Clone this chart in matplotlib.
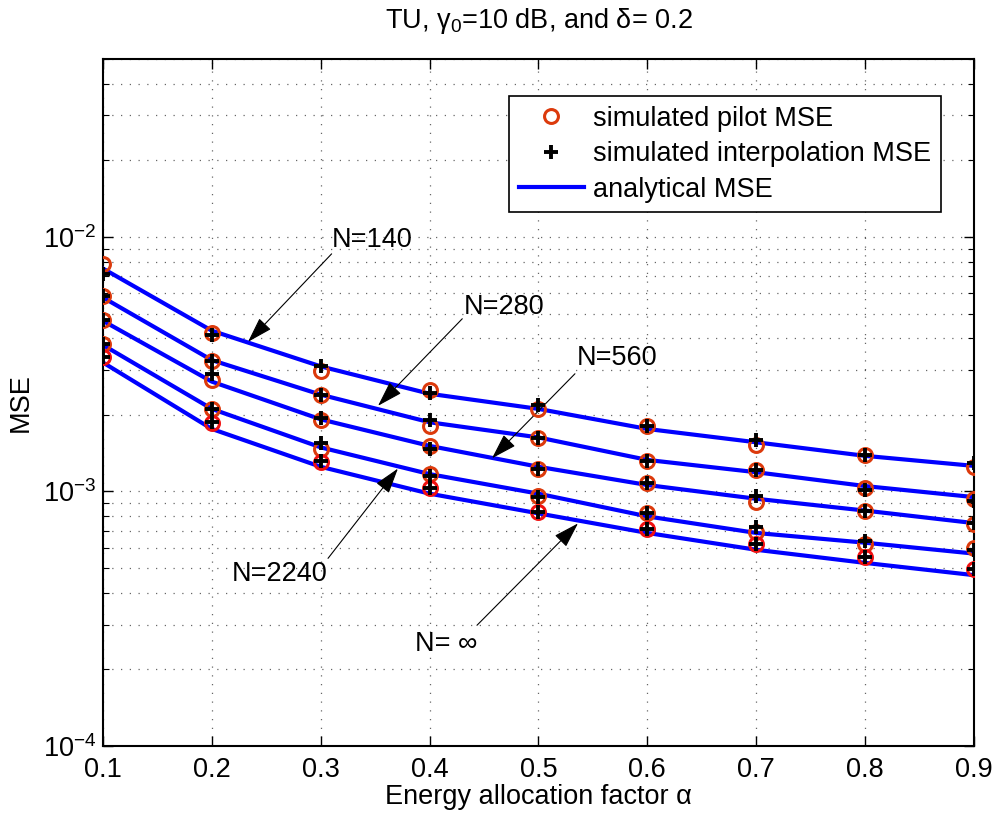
import numpy as np
import matplotlib
matplotlib.use("Agg")
from matplotlib import pyplot as plt
from matplotlib.ticker import LogLocator, NullFormatter

plt.rcParams['font.family'] = ['Liberation Sans', 'DejaVu Sans']
plt.rcParams['mathtext.fontset'] = 'custom'
plt.rcParams['mathtext.rm'] = 'Liberation Sans'
plt.rcParams['mathtext.it'] = 'Liberation Sans:italic'
plt.rcParams['font.size'] = 19.5

# energy allocation factor
alpha = [0.1, 0.2, 0.3, 0.4, 0.5, 0.6, 0.7, 0.8, 0.9]
labels = ["N=140", "N=280", "N=560", "N=2240", "N= \u221e"]

# analytical MSE curves
ana_140 = [7.51e-3, 4.28e-3, 3.10e-3, 2.42e-3, 2.11e-3, 1.76e-3, 1.56e-3, 1.38e-3, 1.26e-3]
ana_280 = [5.78e-3, 3.28e-3, 2.40e-3, 1.87e-3, 1.63e-3, 1.33e-3, 1.19e-3, 1.05e-3, 9.5e-4]
ana_560 = [4.68e-3, 2.70e-3, 1.92e-3, 1.51e-3, 1.25e-3, 1.06e-3, 9.36e-4, 8.41e-4, 7.51e-4]
ana_2240 = [3.76e-3, 2.11e-3, 1.49e-3, 1.17e-3, 9.8e-4, 7.98e-4, 6.87e-4, 6.29e-4, 5.70e-4]
ana_inf = [3.21e-3, 1.76e-3, 1.25e-3, 9.8e-4, 8.2e-4, 6.87e-4, 5.90e-4, 5.24e-4, 4.69e-4]

# simulated pilot MSE (circles)
pil_140 = [7.82e-3, 4.18e-3, 2.96e-3, 2.51e-3, 2.11e-3, 1.80e-3, 1.52e-3, 1.39e-3, 1.25e-3]
pil_280 = [5.87e-3, 3.24e-3, 2.40e-3, 1.80e-3, 1.62e-3, 1.32e-3, 1.21e-3, 1.03e-3, 9.36e-4]
pil_560 = [4.71e-3, 2.74e-3, 1.91e-3, 1.51e-3, 1.23e-3, 1.08e-3, 9.08e-4, 8.38e-4, 7.45e-4]
pil_2240 = [3.80e-3, 2.11e-3, 1.47e-3, 1.17e-3, 9.64e-4, 8.2e-4, 6.93e-4, 6.2e-4, 6.01e-4]
pil_inf = [3.36e-3, 1.85e-3, 1.30e-3, 1.03e-3, 8.3e-4, 7.14e-4, 6.19e-4, 5.52e-4, 4.95e-4]

# simulated interpolation MSE (plus)
int_140 = [7.14e-3, 4.10e-3, 3.12e-3, 2.43e-3, 2.19e-3, 1.80e-3, 1.59e-3, 1.39e-3, 1.29e-3]
int_280 = [5.87e-3, 3.26e-3, 2.40e-3, 1.90e-3, 1.62e-3, 1.32e-3, 1.21e-3, 1.01e-3, 9.16e-4]
int_560 = [4.71e-3, 2.89e-3, 1.95e-3, 1.47e-3, 1.23e-3, 1.08e-3, 9.64e-4, 8.38e-4, 7.55e-4]
int_2240 = [3.80e-3, 2.11e-3, 1.55e-3, 1.15e-3, 9.5e-4, 8.2e-4, 7.26e-4, 6.38e-4, 5.9e-4]
int_inf = [3.36e-3, 1.87e-3, 1.32e-3, 1.03e-3, 8.3e-4, 7.14e-4, 6.19e-4, 5.52e-4, 4.95e-4]

analytical = [ana_140, ana_280, ana_560, ana_2240, ana_inf]
pilot = [pil_140, pil_280, pil_560, pil_2240, pil_inf]
interp = [int_140, int_280, int_560, int_2240, int_inf]
circle_colors = ['#dc3a0c', '#dc3a0c', '#dc3a0c', '#dc3a0c', '#f01010']

# annotation positions: (text xy, arrow tail, arrow head)
ann_text = [(0.310, 9.73e-3), (0.431, 5.31e-3), (0.535, 3.35e-3), (0.2185, 4.73e-4), (0.387, 2.51e-4)]
ann_tail = [(0.310, 8.58e-3), (0.430, 4.77e-3), (0.5335, 2.90e-3), (0.3067, 5.46e-4), (0.4435, 2.98e-4)]
ann_head = [(0.2332, 3.87e-3), (0.3526, 2.17e-3), (0.4573, 1.35e-3), (0.3709, 1.23e-3), (0.5363, 7.49e-4)]

fig = plt.figure(figsize=(9.96, 8.16), dpi=100)
ax = fig.add_axes([0.1034, 0.0858, 0.8745, 0.8419])

for i in range(len(analytical)):
    ax.plot(alpha, analytical[i], color='#0000ff', lw=3, zorder=3,
            label='analytical MSE' if i == 0 else None)
for i in range(len(pilot)):
    ax.plot(alpha, pilot[i], ls='none', marker='o', ms=10, mew=2.2, mfc='none',
            mec=circle_colors[i], zorder=4,
            label='simulated pilot MSE' if i == 0 else None)
for i in range(len(interp)):
    ax.plot(alpha, interp[i], ls='none', marker='+', ms=10, mew=2.8, color='k', zorder=5,
            label='simulated interpolation MSE' if i == 0 else None)

for lab, t, tail, head in zip(labels, ann_text, ann_tail, ann_head):
    ax.text(t[0], t[1], lab, ha='left', va='center', fontsize=19.5)
    ax.annotate('', xy=head, xytext=tail,
                arrowprops=dict(arrowstyle='-|>,head_length=0.8,head_width=0.25',
                                mutation_scale=20, color='k', lw=0.8,
                                shrinkA=0, shrinkB=0))

ax.set_yscale('log')
ax.set_xlim(0.1, 0.9)
ax.set_ylim(1e-4, 5e-2)
ax.set_xticks(alpha)
ax.set_xticklabels(['0.1', '0.2', '0.3', '0.4', '0.5', '0.6', '0.7', '0.8', '0.9'])
ax.yaxis.set_major_locator(LogLocator(base=10, numticks=10))
ax.yaxis.set_minor_locator(LogLocator(base=10, subs=np.arange(2, 10), numticks=20))
ax.yaxis.set_minor_formatter(NullFormatter())

ax.grid(True, which='major', ls=(0, (1, 6)), color='k', lw=0.9, alpha=0.6)
ax.grid(True, which='minor', axis='y', ls=(0, (1, 6)), color='k', lw=0.9, alpha=0.6)
ax.tick_params(which='both', direction='in', top=True, right=True)
ax.tick_params(which='major', length=7, width=1)
ax.tick_params(which='minor', length=4, width=0.8)
ax.tick_params(axis='x', which='major', pad=8)
ax.tick_params(axis='y', which='major', pad=5)
for s in ax.spines.values():
    s.set_linewidth(1.5)

ax.set_title('TU, \u03b3$_0$=10 dB, and \u03b4= 0.2', fontsize=19.5, pad=22)
ax.set_xlabel('Energy allocation factor \u03b1', labelpad=1)
ax.set_ylabel('MSE', labelpad=6)

handles, labs = ax.get_legend_handles_labels()
order = [labs.index('simulated pilot MSE'), labs.index('simulated interpolation MSE'),
         labs.index('analytical MSE')]
leg = ax.legend([handles[k] for k in order], [labs[k] for k in order],
                loc='upper right', bbox_to_anchor=(0.962, 0.946), fancybox=False,
                edgecolor='k', framealpha=1, fontsize=19.5, handlelength=2.4,
                handletextpad=0.35, labelspacing=0.35, borderpad=0.35, borderaxespad=0)
leg.get_frame().set_linewidth(1.2)

fig.savefig('out.png', dpi=100)
